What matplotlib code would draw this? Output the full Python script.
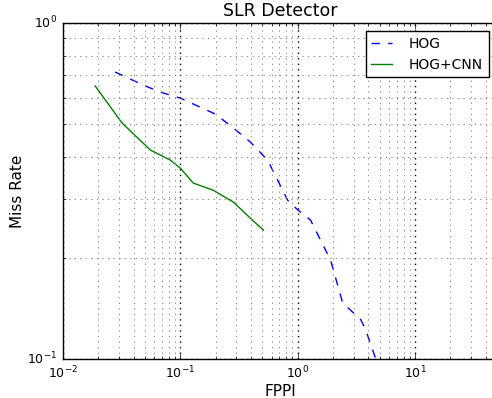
import matplotlib
matplotlib.use('Agg')
import matplotlib.pyplot as plt

plt.style.use('classic')

# HOG curve (FPPI vs miss rate)
hog_fppi = [0.0278, 0.0483, 0.0675, 0.1, 0.199, 0.284, 0.396, 0.555, 0.822, 1.0, 1.29, 1.91, 2.42, 3.45, 3.81, 4.64]
hog_miss = [0.715, 0.654, 0.623, 0.598, 0.536, 0.487, 0.442, 0.391, 0.297, 0.278, 0.259, 0.197, 0.147, 0.131, 0.122, 0.1]

# HOG+CNN curve
cnn_fppi = [0.0188, 0.0319, 0.0555, 0.0822, 0.1, 0.129, 0.191, 0.284, 0.412, 0.512]
cnn_miss = [0.65, 0.504, 0.419, 0.391, 0.370, 0.334, 0.318, 0.293, 0.259, 0.242]

fig = plt.figure(figsize=(4.92, 3.98), dpi=100, facecolor='white')
# axes runs a little past the right edge of the figure, as in the reference
ax = fig.add_axes([0.128, 0.098, 0.882, 0.844])

ax.loglog(hog_fppi, hog_miss, 'b--', linewidth=1, label='HOG')
ax.loglog(cnn_fppi, cnn_miss, 'g-', linewidth=1, label='HOG+CNN')

ax.set_xlim(0.01, 50)
ax.set_ylim(0.1, 1.0)
ax.grid(True, which='major', color='k', linestyle=':', linewidth=1.0)
ax.grid(True, which='minor', color='0.5', linestyle=':', linewidth=0.6)

ax.set_title('SLR Detector', fontsize=12.5)
ax.set_xlabel('FPPI', fontsize=11, labelpad=2)
ax.set_ylabel('Miss Rate', fontsize=11, labelpad=2)
ax.tick_params(labelsize=9)
ax.legend(loc='upper right', fontsize=10, numpoints=1, handlelength=1.5,
          handletextpad=1.2, borderaxespad=0.6)

fig.savefig('out.png', dpi=100, facecolor='white')
